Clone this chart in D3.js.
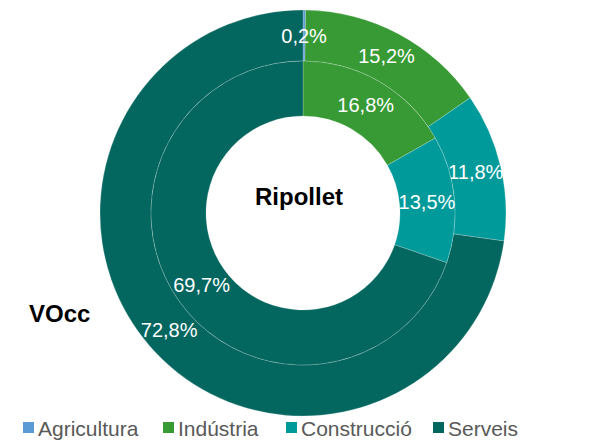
<!DOCTYPE html>
<html>
<head>
<meta charset="utf-8">
<script src="https://cdn.jsdelivr.net/npm/d3@7"></script>
<style>
  body { margin: 0; background: #fff; }
  svg { display: block; font-family: "Liberation Sans", Arial, sans-serif; }
</style>
</head>
<body>
<div id="chart"></div>
<script>
// sectors and shares (%)
const categories = ['Agricultura', 'Indústria', 'Construcció', 'Serveis'];
const outerValues = [0.2, 15.2, 11.8, 72.8];
const innerValues = [0.0, 16.8, 13.5, 69.7];
const colors = ['#5b9bd5', '#389a35', '#019a9a', '#03665f'];
const centerTitle = 'Ripollet';
const sideTitle = 'VOcc';

const width = 595, height = 442;
const cx = 303, cy = 213;

const svg = d3.select('#chart').append('svg')
  .attr('width', width)
  .attr('height', height);

const color = d3.scaleOrdinal().domain(categories).range(colors);
const fmt = v => d3.format('.1f')(v).replace('.', ',') + '%';

const pie = d3.pie().sort(null).value(d => d.value);

function ring(values, r0, r1){
  const rows = categories.map((c, i) => ({name: c, value: values[i]}));
  const arcs = pie(rows);
  const arc = d3.arc().innerRadius(r0).outerRadius(r1);
  const labelArc = d3.arc().innerRadius((r0 + r1) / 2).outerRadius((r0 + r1) / 2);
  const g = svg.append('g').attr('transform', `translate(${cx},${cy})`);
  g.selectAll('path')
    .data(arcs)
    .join('path')
    .attr('d', arc)
    .attr('fill', d => color(d.data.name))
    .attr('stroke', 'rgba(255,255,255,0.35)')
    .attr('stroke-width', 0.6);
  g.selectAll('text')
    .data(arcs.filter(d => d.data.value > 0))
    .join('text')
    .attr('transform', d => `translate(${labelArc.centroid(d)})`)
    .attr('text-anchor', 'middle')
    .attr('dy', '0.35em')
    .attr('fill', '#fff')
    .attr('font-size', '20px')
    .text(d => fmt(d.data.value));
}

ring(outerValues, 152, 203);
ring(innerValues, 97, 152);

svg.append('text')
  .attr('x', 299).attr('y', 205)
  .attr('text-anchor', 'middle')
  .attr('font-size', '24px')
  .attr('font-weight', 'bold')
  .attr('fill', '#000')
  .text(centerTitle);

svg.append('text')
  .attr('x', 29).attr('y', 322)
  .attr('font-size', '24px')
  .attr('font-weight', 'bold')
  .attr('fill', '#000')
  .text(sideTitle);

// legend
const legendX = [23, 163, 286, 433];
const legend = svg.append('g')
  .selectAll('g')
  .data(categories)
  .join('g')
  .attr('transform', (d, i) => `translate(${legendX[i]},0)`);
legend.append('rect')
  .attr('x', 0).attr('y', 422)
  .attr('width', 11).attr('height', 11)
  .attr('fill', d => color(d));
legend.append('text')
  .attr('x', 15).attr('y', 436)
  .attr('font-size', '21px')
  .attr('fill', '#595959')
  .text(d => d);
</script>
</body>
</html>
